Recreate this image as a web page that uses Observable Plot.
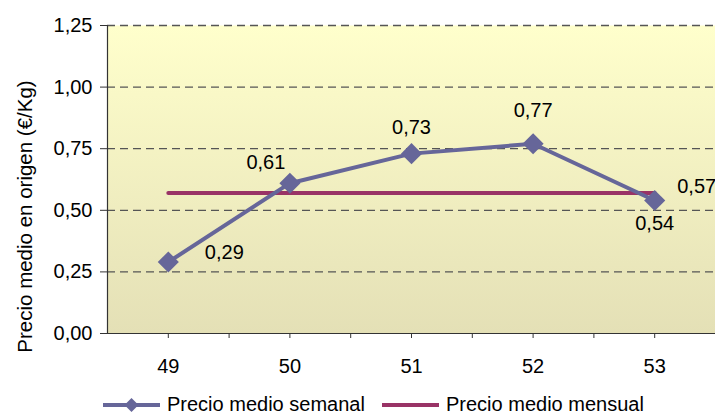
<!DOCTYPE html>
<html>
<head>
<meta charset="utf-8">
<script src="https://cdn.jsdelivr.net/npm/d3@7"></script>
<script src="https://cdn.jsdelivr.net/npm/@observablehq/plot@0.6"></script>
<style>
  html, body { margin: 0; padding: 0; background: #fff; }
  #wrap { position: relative; width: 715px; height: 417px; font-family: "Liberation Sans", Arial, sans-serif; overflow: hidden; }
  #legend { position: absolute; left: 0; top: 393px; width: 715px; height: 23px; font-size: 20px; line-height: 23px; color: #000; }
  .item { position: absolute; top: 0; display: flex; align-items: center; height: 23px; }
  .item svg { display: block; margin-right: 7px; }
</style>
</head>
<body>
<div id="wrap"><div id="chart"></div><div id="legend"></div></div>
<script>
// ---- data ----
const weeks = [49, 50, 51, 52, 53];
const weeklyPrice = [0.29, 0.61, 0.73, 0.77, 0.54];
const monthlyPrice = [0.57, 0.57, 0.57, 0.57, 0.57];
const yTicks = [0, 0.25, 0.5, 0.75, 1.0, 1.25];
const seriesNames = ["Precio medio semanal", "Precio medio mensual"];
const yTitle = "Precio medio en origen (€/Kg)";

// ---- rendering ----
const colWeekly = "#666699";
const colMonthly = "#993366";
const FS = 20;
const fmt = v => d3.format(".2f")(v).replace(".", ",");

const weekly = weeks.map((w, i) => ({week: w, value: weeklyPrice[i], i}));
const monthly = weeks.map((w, i) => ({week: w, value: monthlyPrice[i]}));
const bounds = weeks.map(w => w + 0.5);

// label offsets (placement only)
const off = [[56, -9], [-24, -21], [0, -26], [0, -33], [0, 23]];

const defs = () => {
  const g = d3.create("svg:defs");
  const lg = g.append("linearGradient").attr("id", "bg").attr("x1", 0).attr("y1", 0).attr("x2", 0).attr("y2", 1);
  lg.append("stop").attr("offset", "0%").attr("stop-color", "#FFFFCC");
  lg.append("stop").attr("offset", "100%").attr("stop-color", "#E4E0B6");
  return g.node();
};

const chart = Plot.plot({
  width: 715,
  height: 385,
  marginTop: 25,
  marginBottom: 52,
  marginLeft: 107,
  marginRight: 0,
  style: {fontFamily: "Liberation Sans, Arial, sans-serif", fontSize: FS + "px", color: "#000", background: "transparent", overflow: "visible"},
  x: {domain: [48.5, 53.5], axis: null},
  y: {domain: [0, 1.25], axis: null},
  marks: [
    defs,
    Plot.frame({fill: "url(#bg)", stroke: null}),
    Plot.gridY(yTicks.filter(d => d > 0), {stroke: "#555", strokeOpacity: 1, strokeWidth: 1.3, strokeDasharray: "8,5"}),
    Plot.ruleX([48.5], {stroke: "#333", strokeWidth: 1.2}),
    Plot.ruleY([0], {stroke: "#333", strokeWidth: 1.2}),
    Plot.axisY({ticks: yTicks, tickFormat: fmt, tickSize: 7, tickPadding: 8, label: null, stroke: "#333", fontSize: FS}),
    Plot.axisX({ticks: weeks, tickFormat: d => String(d), tickSize: 5, tickPadding: 20, label: null, stroke: "#333", fontSize: FS}),
    Plot.axisX({ticks: bounds, tickFormat: () => "", tickSize: 5, label: null, stroke: "#333"}),
    Plot.text([yTitle], {frameAnchor: "left", textAnchor: "middle", rotate: -90, dx: -82, dy: 37, fontSize: 20.5, fill: "#000"}),
    Plot.line(monthly, {x: "week", y: "value", stroke: colMonthly, strokeWidth: 4}),
    Plot.line(weekly, {x: "week", y: "value", stroke: colWeekly, strokeWidth: 4}),
    Plot.dot(weekly, {x: "week", y: "value", symbol: "diamond2", r: 9.5, fill: colWeekly, stroke: null}),
    ...weekly.map((d, i) => Plot.text([d], {x: "week", y: "value", text: d => fmt(d.value), dx: off[i][0], dy: off[i][1], fontSize: FS, fill: "#000"})),
    Plot.text([monthly[monthly.length - 1]], {x: "week", y: "value", text: d => fmt(d.value), dx: 42, dy: -6, fontSize: FS, fill: "#000"})
  ]
});
document.getElementById("chart").appendChild(chart);

// legend
const legend = document.getElementById("legend");
const items = [
  {name: seriesNames[0], color: colWeekly, marker: true, left: 103},
  {name: seriesNames[1], color: colMonthly, marker: false, left: 382}
];
for (const it of items) {
  const div = document.createElement("div");
  div.className = "item";
  div.style.left = it.left + "px";
  const s = d3.create("svg").attr("width", 57).attr("height", 23);
  s.append("line").attr("x1", 0).attr("x2", 57).attr("y1", 12).attr("y2", 12).attr("stroke", it.color).attr("stroke-width", 4);
  if (it.marker) s.append("path").attr("d", "M28.5,5 L35.5,12 L28.5,19 L21.5,12 Z").attr("fill", it.color);
  div.appendChild(s.node());
  const t = document.createElement("span");
  t.textContent = it.name;
  div.appendChild(t);
  legend.appendChild(div);
}
</script>
</body>
</html>
